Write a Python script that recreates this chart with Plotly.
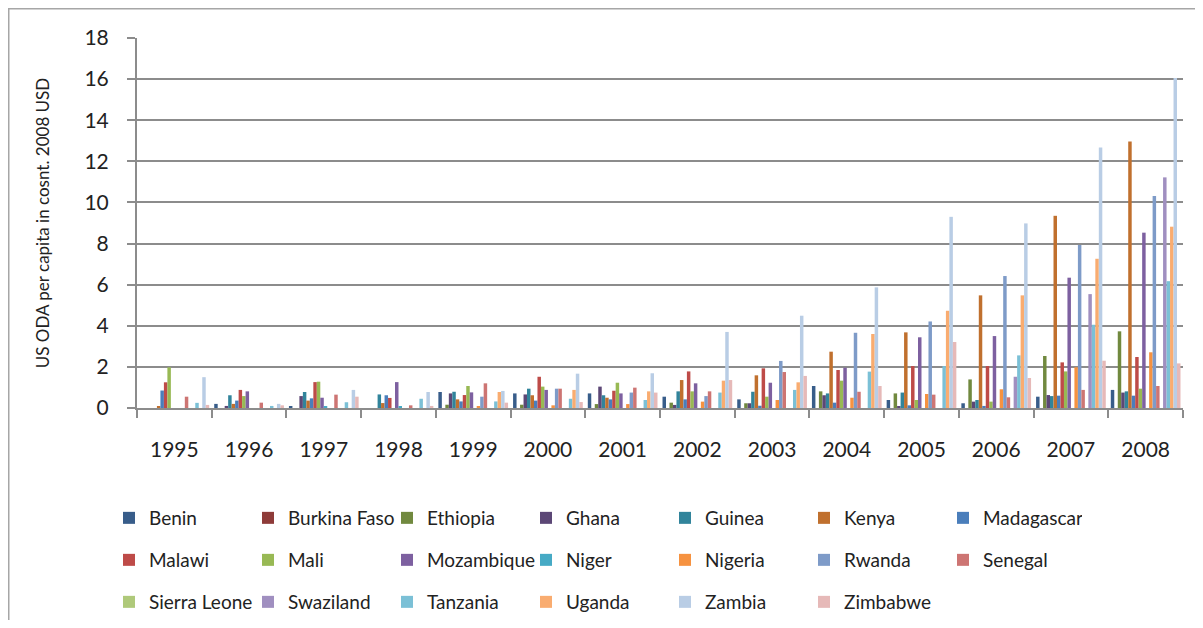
import plotly.graph_objects as go

years = ["1995", "1996", "1997", "1998", "1999", "2000", "2001",
         "2002", "2003", "2004", "2005", "2006", "2007", "2008"]

benin        = [0.00, 0.20, 0.08, 0.00, 0.78, 0.71, 0.71, 0.55, 0.42, 1.07, 0.39, 0.23, 0.55, 0.88]
burkina_faso = [0.00, 0.00, 0.00, 0.00, 0.00, 0.00, 0.00, 0.00, 0.00, 0.00, 0.00, 0.00, 0.00, 0.00]
ethiopia     = [0.00, 0.00, 0.00, 0.00, 0.16, 0.16, 0.19, 0.26, 0.23, 0.81, 0.71, 1.39, 2.53, 3.73]
ghana        = [0.00, 0.10, 0.58, 0.00, 0.71, 0.66, 1.04, 0.15, 0.23, 0.62, 0.05, 0.31, 0.63, 0.75]
guinea       = [0.00, 0.62, 0.78, 0.66, 0.79, 0.94, 0.62, 0.81, 0.79, 0.71, 0.75, 0.39, 0.58, 0.81]
kenya        = [0.05, 0.20, 0.36, 0.24, 0.42, 0.62, 0.50, 1.36, 1.59, 2.74, 3.68, 5.48, 9.35, 12.97]
madagascar   = [0.85, 0.36, 0.47, 0.62, 0.32, 0.36, 0.42, 0.42, 0.11, 0.26, 0.13, 0.10, 0.60, 0.60]
malawi       = [1.25, 0.88, 1.26, 0.49, 0.63, 1.52, 0.84, 1.78, 1.93, 1.85, 2.04, 2.04, 2.22, 2.48]
mali         = [1.98, 0.58, 1.28, 0.00, 1.07, 1.04, 1.23, 0.81, 0.55, 1.33, 0.39, 0.31, 1.78, 0.94]
mozambique   = [0.00, 0.81, 0.50, 1.26, 0.76, 0.88, 0.71, 1.20, 1.23, 1.96, 3.44, 3.50, 6.34, 8.53]
niger        = [0.00, 0.00, 0.08, 0.06, 0.00, 0.00, 0.00, 0.00, 0.00, 0.00, 0.00, 0.00, 0.00, 0.00]
nigeria      = [0.00, 0.00, 0.00, 0.00, 0.08, 0.13, 0.19, 0.31, 0.39, 0.50, 0.68, 0.91, 1.98, 2.71]
rwanda       = [0.00, 0.00, 0.00, 0.00, 0.55, 0.94, 0.75, 0.58, 2.29, 3.66, 4.21, 6.42, 7.93, 10.31]
senegal      = [0.55, 0.26, 0.65, 0.13, 1.20, 0.94, 0.99, 0.81, 1.75, 0.79, 0.65, 0.52, 0.88, 1.07]
sierra_leone = [0.00, 0.00, 0.00, 0.00, 0.00, 0.00, 0.00, 0.00, 0.00, 0.00, 0.00, 0.00, 0.00, 0.00]
swaziland    = [0.00, 0.00, 0.00, 0.00, 0.00, 0.00, 0.00, 0.00, 0.00, 0.00, 0.00, 1.52, 5.54, 11.22]
tanzania     = [0.25, 0.10, 0.28, 0.45, 0.32, 0.45, 0.39, 0.75, 0.88, 1.77, 2.04, 2.56, 4.05, 6.17]
uganda       = [0.00, 0.00, 0.00, 0.00, 0.78, 0.88, 0.81, 1.33, 1.25, 3.60, 4.73, 5.48, 7.26, 8.82]
zambia       = [1.50, 0.20, 0.88, 0.78, 0.83, 1.67, 1.69, 3.70, 4.49, 5.87, 9.30, 8.98, 12.67, 16.05]
zimbabwe     = [0.15, 0.13, 0.55, 0.10, 0.26, 0.29, 0.75, 1.36, 1.56, 1.07, 3.21, 1.46, 2.30, 2.17]

countries = ["Benin", "Burkina Faso", "Ethiopia", "Ghana", "Guinea", "Kenya", "Madagascar",
             "Malawi", "Mali", "Mozambique", "Niger", "Nigeria", "Rwanda", "Senegal",
             "Sierra Leone", "Swaziland", "Tanzania", "Uganda", "Zambia", "Zimbabwe"]
values = [benin, burkina_faso, ethiopia, ghana, guinea, kenya, madagascar,
          malawi, mali, mozambique, niger, nigeria, rwanda, senegal,
          sierra_leone, swaziland, tanzania, uganda, zambia, zimbabwe]
colors = ["#385D8A", "#8E3B39", "#71893F", "#5C4776", "#31849B", "#C0702E", "#4A7EBB",
          "#BE4B48", "#98B954", "#7D60A0", "#46AAC5", "#F69240", "#7E9BC8", "#CD7573",
          "#AFC97A", "#A08FC0", "#7BC0D6", "#F9AC70", "#B9CDE5", "#E6B9B8"]

fig = go.Figure()
for idx, (name, vals, col) in enumerate(zip(countries, values, colors)):
    leg = "legend" if idx < 7 else ("legend2" if idx < 14 else "legend3")
    fig.add_trace(go.Bar(x=years, y=vals, name=name, marker_color=col,
                         marker_line_width=0, legend=leg))

font_family = "Lato, 'Open Sans', sans-serif"
grid_col = "#8C8C8C"

# page body has an 8px margin, so figure coordinates = screen coordinates - 8
OFF = 8
W, H = 1187, 612
L, T = 137 - OFF, 38 - OFF
pw, ph = 1183 - 137, 408 - 38
R, B = W - L - pw, H - T - ph

def sx(px):
    return (px - OFF - L) / pw

def sy(py):
    return (T + ph - (py - OFF)) / ph

legend_common = dict(orientation="h", xanchor="left", yanchor="middle",
                     xref="container", yref="container",
                     entrywidth=94, entrywidthmode="pixels",
                     font=dict(family=font_family, size=19, color="#222222"),
                     bgcolor="rgba(0,0,0,0)", traceorder="normal",
                     itemclick=False)

def lx(px):
    return (px - OFF) / W

def ly(py):
    return 1 - (py - OFF) / H

fig.update_layout(
    width=W, height=H,
    margin=dict(l=L, r=R, t=T, b=B, autoexpand=False),
    paper_bgcolor="white", plot_bgcolor="white",
    barmode="group", bargap=0.067, bargroupgap=0,
    font=dict(family=font_family, color="#222222"),
    legend=dict(x=lx(109), y=ly(518), **legend_common),
    legend2=dict(x=lx(109), y=ly(560), **legend_common),
    legend3=dict(x=lx(109), y=ly(602), **legend_common),
    xaxis=dict(type="category", showline=True, linecolor=grid_col, linewidth=2,
               ticks="outside", tickson="boundaries", ticklen=8, tickwidth=2,
               tickcolor=grid_col, ticklabelstandoff=22, automargin=False,
               tickfont=dict(family=font_family, size=21, color="#222222"),
               showgrid=False),
    yaxis=dict(range=[0, 18], dtick=2, showline=True, linecolor=grid_col, linewidth=2,
               ticks="outside", ticklen=8, tickwidth=2, tickcolor=grid_col,
               showgrid=True, gridcolor=grid_col, gridwidth=2,
               ticklabelstandoff=14, automargin=False,
               tickfont=dict(family=font_family, size=21, color="#222222"),
               title=dict(text="US ODA per capita in cosnt. 2008 USD",
                          font=dict(family=font_family, size=17, color="#222222"),
                          standoff=30),
               zeroline=False),
    shapes=[dict(type="rect", xref="paper", yref="paper",
                 x0=sx(8.5), x1=sx(1240),
                 y0=sy(680), y1=sy(8.5),
                 line=dict(color="#A6A6A6", width=2), fillcolor="rgba(0,0,0,0)",
                 layer="below")],
)

fig.write_html("out.html")
